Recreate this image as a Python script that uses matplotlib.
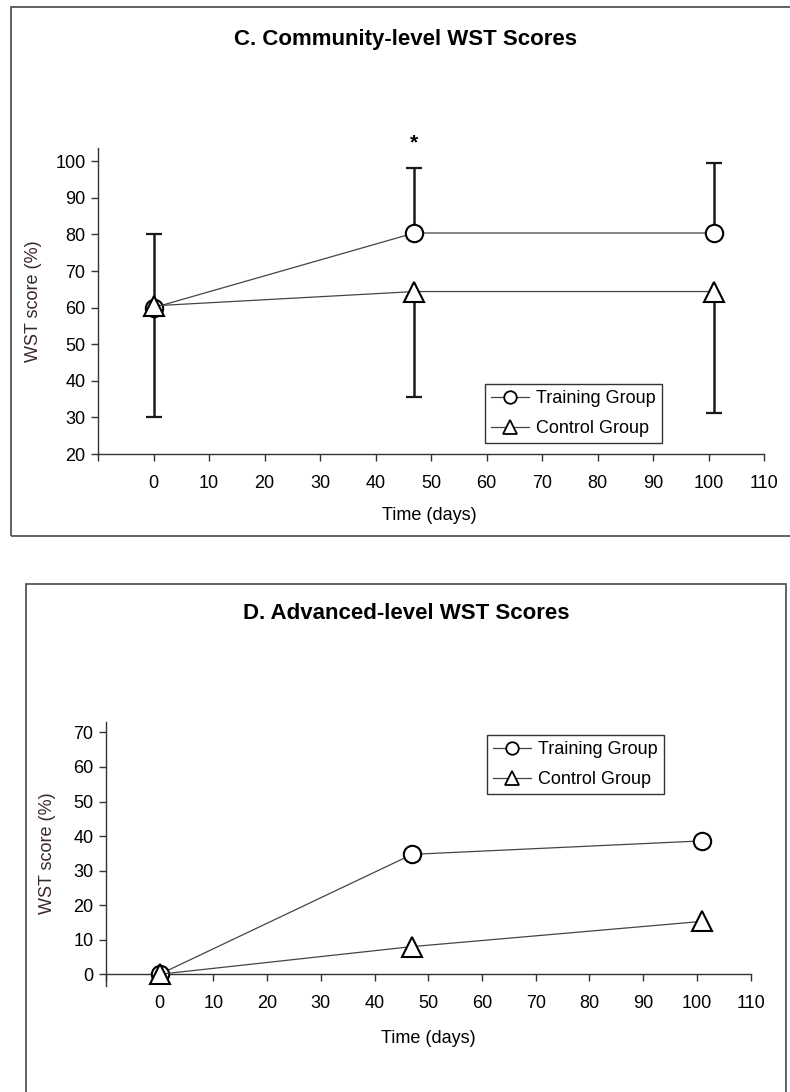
import numpy as np
import matplotlib
matplotlib.use("Agg")
import matplotlib.pyplot as plt
from matplotlib.patches import Rectangle

plt.rcParams['font.family'] = ['Liberation Sans', 'DejaVu Sans']

# time points (days)
days = [0, 47, 101]

# C. community-level scores
comm_training = [60, 80.4, 80.4]
comm_control = [60.5, 64.4, 64.4]
comm_training_upper = [80, 98.1, 99.5]   # top of training error bars
comm_control_lower = [30, 35.7, 31.2]    # bottom of control error bars

# D. advanced-level scores
adv_training = [0, 34.7, 38.6]
adv_control = [0, 8.0, 15.3]

x_ticks = list(range(-10, 111, 10))
x_labels = [''] + [str(t) for t in range(0, 111, 10)]

LINE_COL = '#444444'
SPINE_COL = '#333333'
LABEL_COL = '#3b2828'
FS = 13


def style_axes(ax):
    for side in ['top', 'right']:
        ax.spines[side].set_visible(False)
    for side in ['left', 'bottom']:
        ax.spines[side].set_color(SPINE_COL)
        ax.spines[side].set_linewidth(1.0)
    ax.set_xticks(x_ticks)
    ax.set_xticklabels(x_labels)
    ax.tick_params(axis='both', direction='out', length=5, width=1.0,
                   color=SPINE_COL, labelsize=FS)
    ax.tick_params(axis='x', pad=10)
    ax.tick_params(axis='y', pad=4)


def draw_series(ax, y_tr, y_ct):
    ax.plot(days, y_tr, color=LINE_COL, lw=0.9, marker='o', ms=12.5,
            mfc='white', mec='black', mew=1.5, zorder=4, label='Training Group')
    ax.plot(days, y_ct, color=LINE_COL, lw=0.9, marker='^', ms=14,
            mfc='white', mec='black', mew=1.5, zorder=4, label='Control Group')


def add_legend(ax, anchor):
    leg = ax.legend(loc='upper left', bbox_to_anchor=anchor, borderaxespad=0,
                    fancybox=False, framealpha=1, edgecolor='#333333',
                    fontsize=FS, handlelength=2.1, handletextpad=0.4,
                    labelspacing=0.7, borderpad=0.35, markerscale=0.72)
    leg.get_frame().set_linewidth(1.0)
    for h in leg.legend_handles:
        h.set_markeredgewidth(1.3)
    return leg


fig = plt.figure(figsize=(7.9, 10.92), dpi=100)

# panel boxes
fig.patches.append(Rectangle((0.0139, 0.5092), 1.0, 0.4844, transform=fig.transFigure,
                             fill=False, edgecolor='#555555', lw=1.3))
fig.patches.append(Rectangle((0.0329, -0.02), 0.962, 0.485, transform=fig.transFigure,
                             fill=False, edgecolor='#555555', lw=1.3))

# ---- C. Community-level ----
ax1 = fig.add_axes([0.1241, 0.5842, 0.8430, 0.2802])
style_axes(ax1)
ax1.set_xlim(-10, 110)
ax1.set_ylim(20, 103.6)
ax1.set_yticks(range(20, 101, 10))

tr_err = [np.zeros(3), np.array(comm_training_upper) - np.array(comm_training)]
ct_err = [np.array(comm_control) - np.array(comm_control_lower), np.zeros(3)]
for yv, err in [(comm_training, tr_err), (comm_control, ct_err)]:
    _, caps, _ = ax1.errorbar(days, yv, yerr=err, fmt='none', ecolor='#1a1a1a',
                              elinewidth=1.8, capsize=5.5, capthick=1.6, zorder=3)
    for c in caps:
        if np.allclose(c.get_ydata(), yv):
            c.set_visible(False)

draw_series(ax1, comm_training, comm_control)
ax1.text(47, 104.9, '*', ha='center', va='center', fontsize=15, fontweight='bold',
         clip_on=False)
add_legend(ax1, (0.581, 0.229))

fig.text(0.513, 0.964, 'C. Community-level WST Scores', ha='center', va='center',
         fontsize=16, fontweight='bold')
fig.text(0.042, 0.724, 'WST score (%)', rotation=90, ha='center', va='center',
         fontsize=FS, color=LABEL_COL)
fig.text(0.544, 0.528, 'Time (days)', ha='center', va='center', fontsize=FS)

# ---- D. Advanced-level ----
ax2 = fig.add_axes([0.1342, 0.0971, 0.8159, 0.2420])
style_axes(ax2)
ax2.set_xlim(-10, 110)
ax2.set_ylim(-3.4, 73.1)
ax2.set_yticks(range(0, 71, 10))
ax2.spines['bottom'].set_position(('data', 0))

draw_series(ax2, adv_training, adv_control)
add_legend(ax2, (0.591, 0.950))

fig.text(0.514, 0.4386, 'D. Advanced-level WST Scores', ha='center', va='center',
         fontsize=16, fontweight='bold')
fig.text(0.060, 0.219, 'WST score (%)', rotation=90, ha='center', va='center',
         fontsize=FS, color=LABEL_COL)
fig.text(0.542, 0.049, 'Time (days)', ha='center', va='center', fontsize=FS)

fig.savefig('out.png', dpi=100)
